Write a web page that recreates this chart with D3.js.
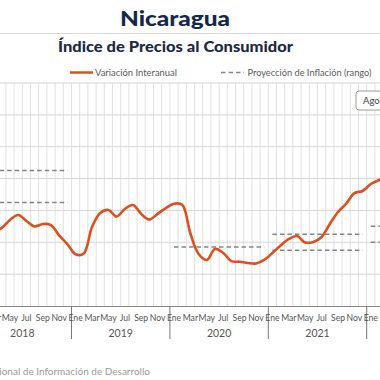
<!DOCTYPE html>
<html>
<head>
<meta charset="utf-8">
<script src="https://cdn.jsdelivr.net/npm/d3@7"></script>
<style>
  html, body { margin: 0; padding: 0; background: #fff; overflow: hidden; }
  svg { display: block; }
</style>
</head>
<body>
<svg id="chart" width="380" height="380"></svg>
<script>
// ---- Data ----
const title = "Nicaragua";
const subtitle = "Índice de Precios al Consumidor";
const legendLabels = ["Variación Interanual", "Proyección de Inflación (rango)"];
const sourceText = "Fuente: Sistema Nacional de Información de  Desarrollo";
const selectorText = "Agosto 2022";

const years = ["2018", "2019", "2020", "2021", "2022"];
const monthTickLabels = ["Ene", "Mar", "May", "Jul", "Sep", "Nov"];
const monthTickIndex = [0, 2, 4, 6, 8, 10];

// Monthly interannual variation (%), Jan 2018 .. Mar 2022
const months = [
  "2018-01","2018-02","2018-03","2018-04","2018-05","2018-06","2018-07","2018-08","2018-09","2018-10","2018-11","2018-12",
  "2019-01","2019-02","2019-03","2019-04","2019-05","2019-06","2019-07","2019-08","2019-09","2019-10","2019-11","2019-12",
  "2020-01","2020-02","2020-03","2020-04","2020-05","2020-06","2020-07","2020-08","2020-09","2020-10","2020-11","2020-12",
  "2021-01","2021-02","2021-03","2021-04","2021-05","2021-06","2021-07","2021-08","2021-09","2021-10","2021-11","2021-12",
  "2022-01","2022-02","2022-03"
];
const inflation = [
  5.6, 5.1, 4.7, 4.9, 5.4, 5.71, 5.34, 4.99, 5.15, 5.08, 4.43, 3.89,
  3.25, 3.30, 4.96, 5.84, 6.03, 5.62, 6.09, 6.34, 5.78, 5.43, 5.78, 6.15,
  6.42, 6.35, 4.55, 3.26, 2.89, 3.58, 3.33, 2.82, 2.78, 2.70, 2.67, 2.89,
  3.33, 3.80, 4.21, 4.39, 3.99, 4.02, 4.33, 5.15, 5.90, 6.43, 7.09, 7.22,
  7.66, 7.91, 8.2
];

// Inflation projection range segments
const projStart = ["2018-01", "2018-01", "2020-01", "2021-01", "2021-01", "2022-01", "2022-01"];
const projEnd   = ["2018-12", "2018-12", "2020-12", "2021-12", "2021-12", "2022-12", "2022-12"];
const projValue = [8.5, 6.5, 3.7, 4.5, 3.5, 5.0, 4.0];

const yTicks = [0, 2, 4, 6, 8, 10, 12, 14];

// ---- Layout ----
const svg = d3.select("#chart");
const W = 380;
const monthW = 8.2;
const x0 = -26.9;           // pixel of start of Jan 2018
const nMonths = years.length * 12;
const plotTop = 83, plotBottom = 306;

const mIndex = s => { const [yy, mm] = s.split("-").map(Number); return (yy - 2018) * 12 + (mm - 1); };

const x = d3.scaleLinear().domain([0, nMonths]).range([x0, x0 + nMonths * monthW]);
const y = d3.scaleLinear().domain([0, 14]).range([plotBottom, plotTop]);

const fontFam = "Lato, 'Noto Sans', sans-serif";

// Title
svg.append("text").attr("x", 175).attr("y", 26).attr("text-anchor", "middle")
  .attr("font-family", fontFam).attr("font-weight", 900).attr("font-size", 20.5)
  .attr("fill", "#13294b").attr("textLength", 110).attr("lengthAdjust", "spacingAndGlyphs").text(title);
svg.append("line").attr("x1", 0).attr("x2", W).attr("y1", 33.5).attr("y2", 33.5)
  .attr("stroke", "#d8d8d8").attr("stroke-width", 1);
svg.append("text").attr("x", 175.5).attr("y", 51.5).attr("text-anchor", "middle")
  .attr("font-family", fontFam).attr("font-weight", 900).attr("font-size", 15.5)
  .attr("fill", "#1c2a45").attr("textLength", 235).attr("lengthAdjust", "spacingAndGlyphs").text(subtitle);

// Legend
const lg = svg.append("g").attr("font-family", fontFam).attr("font-size", 9.8).attr("fill", "#5a5a5a");
lg.append("line").attr("x1", 70).attr("x2", 93).attr("y1", 72.5).attr("y2", 72.5)
  .attr("stroke", "#dc4f1f").attr("stroke-width", 2.5);
lg.append("text").attr("x", 95).attr("y", 76).attr("textLength", 82).attr("lengthAdjust", "spacingAndGlyphs")
  .text(legendLabels[0]);
lg.append("line").attr("x1", 221).attr("x2", 244).attr("y1", 72.5).attr("y2", 72.5)
  .attr("stroke", "#888").attr("stroke-width", 1.5).attr("stroke-dasharray", "4.5,3");
lg.append("text").attr("x", 247.5).attr("y", 76).attr("textLength", 124).attr("lengthAdjust", "spacingAndGlyphs")
  .text(legendLabels[1]);

// Grid
const grid = svg.append("g");
grid.selectAll("line.v").data(d3.range(0, nMonths + 1)).join("line")
  .attr("x1", d => x(d)).attr("x2", d => x(d)).attr("y1", plotTop).attr("y2", plotBottom)
  .attr("stroke", "#e1e1e1").attr("stroke-width", 1);
grid.selectAll("line.h").data(yTicks.filter(t => t > 0)).join("line")
  .attr("x1", 0).attr("x2", W).attr("y1", d => y(d)).attr("y2", d => y(d))
  .attr("stroke", "#d6d6d6").attr("stroke-width", 1);

// Projection dashed lines
svg.append("g").selectAll("line").data(projValue.map((v, i) => ({ s: projStart[i], e: projEnd[i], v })))
  .join("line")
  .attr("x1", d => x(mIndex(d.s) + 0.5)).attr("x2", d => x(mIndex(d.e) + 0.5))
  .attr("y1", d => y(d.v)).attr("y2", d => y(d.v))
  .attr("stroke", "#858585").attr("stroke-width", 1.5).attr("stroke-dasharray", "4.5,3");

// Inflation line
const series = months.map((m, i) => ({ m: mIndex(m) + 0.5, v: inflation[i] }));
svg.append("path").datum(series)
  .attr("fill", "none").attr("stroke", "#dc4f1f").attr("stroke-width", 2.6)
  .attr("stroke-linejoin", "round").attr("stroke-linecap", "round")
  .attr("d", d3.line().x(d => x(d.m)).y(d => y(d.v)).curve(d3.curveCatmullRom.alpha(0.5)));

// X axis
svg.append("line").attr("x1", 0).attr("x2", W).attr("y1", plotBottom + 0.5).attr("y2", plotBottom + 0.5)
  .attr("stroke", "#8a8a8a").attr("stroke-width", 1);
const ax = svg.append("g").attr("font-family", fontFam).attr("fill", "#555");
years.forEach((yr, yi) => {
  const base = yi * 12;
  ax.append("line").attr("x1", x(base)).attr("x2", x(base)).attr("y1", plotBottom).attr("y2", 339)
    .attr("stroke", "#777").attr("stroke-width", 1);
  monthTickLabels.forEach((lab, k) => {
    const px = x(base + monthTickIndex[k] + 0.5);
    if (px < -10 || px > W + 8) return;
    ax.append("text").attr("x", px).attr("y", 321)
      .attr("text-anchor", "middle").attr("font-size", 8.6).text(lab);
  });
  const cx = x(base + 6);
  if (cx > -15 && cx < W + 15) {
    ax.append("text").attr("x", cx).attr("y", 337).attr("text-anchor", "middle")
      .attr("font-size", 10.5).text(yr);
  }
});

// Date selector box (cut at the right edge)
svg.append("rect").attr("x", 356).attr("y", 91).attr("width", 60).attr("height", 19).attr("rx", 3)
  .attr("fill", "#fff").attr("stroke", "#9a9a9a").attr("stroke-width", 1);
svg.append("text").attr("x", 363).attr("y", 104).attr("font-family", fontFam).attr("font-size", 9.5)
  .attr("fill", "#444").text(selectorText);

// Source
svg.append("text").attr("x", 150).attr("y", 375).attr("text-anchor", "end")
  .attr("font-family", fontFam).attr("font-size", 10).attr("fill", "#9a9a9a").text(sourceText);
</script>
</body>
</html>
